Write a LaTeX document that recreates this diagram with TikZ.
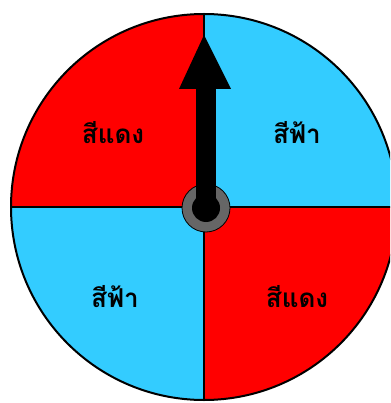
\documentclass[tikz,border=0pt]{standalone}
\usepackage{fontspec}
\newfontfamily\thaifont[Script=Thai]{Loma}
\definecolor{wred}{HTML}{FF0000}
\definecolor{wblue}{HTML}{33CCFF}
\definecolor{hubgray}{HTML}{666666}
\begin{document}
\begin{tikzpicture}[x=1pt,y=-1pt,
  lbl/.style={font=\thaifont\bfseries\fontsize{26}{28}\selectfont, text=black, inner sep=0pt},
  divider/.style={draw=black, line width=1.5pt}]
\useasboundingbox (0,0) rectangle (390,403);
\begin{scope}
\clip (0,0) rectangle (390,403);
\coordinate (c) at (204,207);
\begin{scope}
\clip (c) circle[radius=193];
\fill[wred] (0,0) rectangle (204,207);
\fill[wblue] (204,0) rectangle (410,207);
\fill[wblue] (0,207) rectangle (204,410);
\fill[wred] (204,207) rectangle (410,410);
\end{scope}
\coordinate (top) at (204,14);
\coordinate (bot) at (204,400);
\coordinate (lft) at (11,207);
\coordinate (rgt) at (397,207);
\draw[divider] (top) -- (bot);
\draw[divider] (lft) -- (rgt);
\draw[black, line width=2pt] (c) circle[radius=193];
\end{scope}
\node[lbl] (t1) at (113,133) {สีแดง};
\node[lbl] (t2) at (297,133) {สีฟ้า};
\node[lbl] (t3) at (115,297) {สีฟ้า};
\node[lbl] (t4) at (297,297) {สีแดง};
\coordinate (hub) at (206,208);
\fill[hubgray, draw=black, line width=0.8pt] (hub) circle[radius=24];
\fill[black] (196,89) rectangle (216,208);
\fill[black] (179,89) -- (204,35) -- (231,89) -- cycle;
\fill[black] (hub) circle[radius=14];
\end{tikzpicture}
\end{document}
